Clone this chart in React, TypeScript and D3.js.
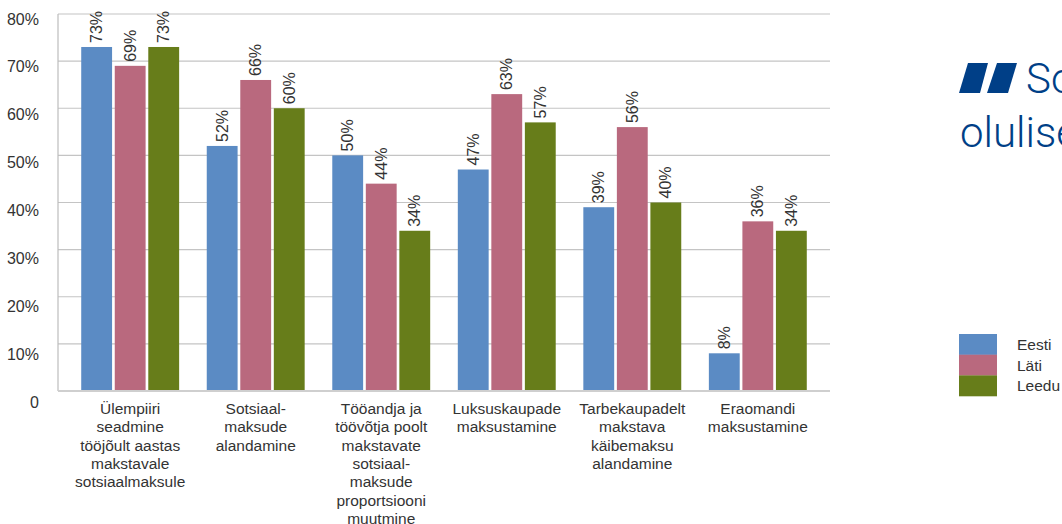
import React, { useEffect, useRef } from 'react';
import * as d3 from 'd3';

// categories (label lines)
const categories = [
  ['Ülempiiri', 'seadmine', 'tööjõult aastas', 'makstavale', 'sotsiaalmaksule'],
  ['Sotsiaal-', 'maksude', 'alandamine'],
  ['Tööandja ja', 'töövõtja poolt', 'makstavate', 'sotsiaal-', 'maksude', 'proportsiooni', 'muutmine'],
  ['Luksuskaupade', 'maksustamine'],
  ['Tarbekaupadelt', 'makstava', 'käibemaksu', 'alandamine'],
  ['Eraomandi', 'maksustamine'],
];
const series = ['Eesti', 'Läti', 'Leedu'];
const eesti = [73, 52, 50, 47, 39, 8];
const lati = [69, 66, 44, 63, 56, 36];
const leedu = [73, 60, 34, 57, 40, 34];
const yTicks = [0, 10, 20, 30, 40, 50, 60, 70, 80];
const colors = ['#5B8BC4', '#B9697E', '#677D1A'];

const FONT = '"Liberation Sans", Arial, sans-serif';

const App = () => {
  const ref = useRef<SVGSVGElement | null>(null);

  useEffect(() => {
    const svg = d3.select(ref.current);
    svg.selectAll('*').remove();

    const values = [eesti, lati, leedu];
    const keys = categories.map((_, i) => String(i));

    const x0 = d3.scaleBand().domain(keys).range([58, 830]).paddingInner(0.22).paddingOuter(0.185);
    const x1 = d3.scaleBand().domain(series).range([0, x0.bandwidth()]).paddingInner(0.08);
    const y = d3.scaleLinear().domain([0, 80]).range([391, 14]);
    // tick labels sit slightly below their gridlines in the original
    const yLab = d3.scaleLinear().domain([0, 80]).range([402, 19]);

    // gridlines
    svg.append('g')
      .selectAll('line')
      .data(yTicks.filter(t => t > 0))
      .join('line')
      .attr('x1', 58).attr('x2', 830)
      .attr('y1', d => y(d)).attr('y2', d => y(d))
      .attr('stroke', '#c4c4c4').attr('stroke-width', 1.2);

    // y tick labels
    svg.append('g')
      .selectAll('text')
      .data(yTicks)
      .join('text')
      .attr('x', 39)
      .attr('y', d => yLab(d))
      .attr('dy', '0.35em')
      .attr('text-anchor', 'end')
      .style('font-family', FONT).style('font-size', '16px').attr('fill', '#333')
      .text(d => (d === 0 ? '0' : `${d}%`));

    // bars
    const groups = svg.append('g')
      .selectAll('g')
      .data(keys)
      .join('g')
      .attr('transform', d => `translate(${x0(d)},0)`);

    const barData = (k: string) => series.map((s, si) => ({ s, si, v: values[si][+k] }));

    groups.selectAll('rect')
      .data(k => barData(k))
      .join('rect')
      .attr('x', d => x1(d.s)!)
      .attr('y', d => y(d.v))
      .attr('width', x1.bandwidth())
      .attr('height', d => y(0) - y(d.v))
      .attr('fill', d => colors[d.si]);

    groups.selectAll('text')
      .data(k => barData(k))
      .join('text')
      .attr('transform', d => `translate(${x1(d.s)! + x1.bandwidth() / 2},${y(d.v) - 4}) rotate(-90)`)
      .attr('dy', '0.35em')
      .style('font-family', FONT).style('font-size', '16px').attr('fill', '#333')
      .text(d => `${d.v}%`);

    // axes lines
    svg.append('line')
      .attr('x1', 58).attr('x2', 58).attr('y1', 14).attr('y2', 391)
      .attr('stroke', '#bdbdbd').attr('stroke-width', 1.2);
    svg.append('line')
      .attr('x1', 58).attr('x2', 830).attr('y1', 391).attr('y2', 391)
      .attr('stroke', '#cfcfcf').attr('stroke-width', 2);

    // category labels
    svg.append('g')
      .selectAll('text')
      .data(keys)
      .join('text')
      .attr('x', d => x0(d)! + x0.bandwidth() / 2)
      .attr('y', 414)
      .attr('text-anchor', 'middle')
      .style('font-family', FONT).style('font-size', '15.5px').attr('fill', '#333')
      .each(function (d) {
        const t = d3.select(this);
        categories[+d].forEach((line, i) => {
          t.append('tspan')
            .attr('x', x0(d)! + x0.bandwidth() / 2)
            .attr('dy', i === 0 ? 0 : 18.3)
            .text(line);
        });
      });

    // legend
    const leg = svg.append('g').attr('transform', 'translate(959,334)');
    series.forEach((s, i) => {
      leg.append('rect')
        .attr('x', 0).attr('y', i * 20.7)
        .attr('width', 38).attr('height', 20.9)
        .attr('fill', colors[i]);
      leg.append('text')
        .attr('x', 58).attr('y', i * 20.7 + 10.5)
        .attr('dy', '0.35em')
        .style('font-family', FONT).style('font-size', '15.5px').attr('fill', '#333')
        .text(s);
    });

    // quote mark + heading (cut by the page edge)
    const q = svg.append('g').attr('fill', '#003F87');
    q.append('path').attr('d', 'M968,63 L988,63 L980,93 L959,93 Z');
    q.append('path').attr('d', 'M997,63 L1017,63 L1008,93 L987,93 Z');
    q.append('text')
      .attr('x', 1026).attr('y', 93)
      .style('font-family', '"Roboto", "Liberation Sans", sans-serif')
      .style('font-size', '42px').style('font-weight', 300)
      .text('Sotsiaalmaksu');
    q.append('text')
      .attr('x', 960).attr('y', 147)
      .style('font-family', '"Roboto", "Liberation Sans", sans-serif')
      .style('font-size', '42px').style('font-weight', 300)
      .text('oluliseim muutus');
  }, []);

  return (
    <svg
      ref={ref}
      width={1062}
      height={524}
      style={{ position: 'absolute', left: 0, top: 0, background: '#fff', display: 'block' }}
    />
  );
};

export default App;
